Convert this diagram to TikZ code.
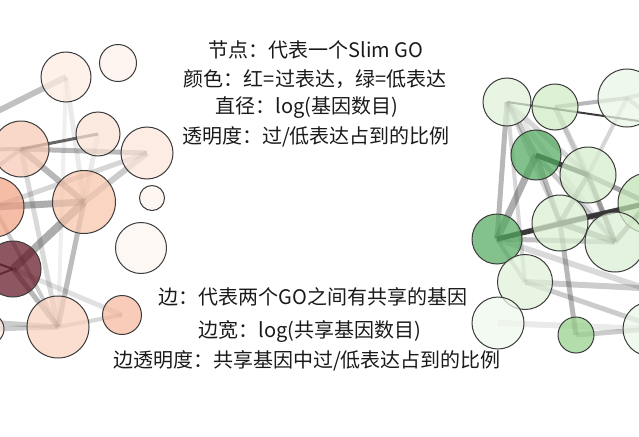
\documentclass[tikz,border=0pt]{standalone}
\usepackage{fontspec}
\setmainfont{Noto Sans CJK SC}
\usetikzlibrary{positioning}
\pgfdeclarelayer{bg}
\pgfsetlayers{bg,main}

% node colours, over-expressed (red) side
\definecolor{redA}{HTML}{FCEBE2}
\definecolor{redB}{HTML}{FDF1EA}
\definecolor{redC}{HTML}{F7C9B4}
\definecolor{redD}{HTML}{FBE1D4}
\definecolor{redE}{HTML}{FCE4D8}
\definecolor{redF}{HTML}{F1A284}
\definecolor{redG}{HTML}{F7C5AB}
\definecolor{redH}{HTML}{FDF2EC}
\definecolor{redI}{HTML}{FEF5F0}
\definecolor{redJ}{HTML}{631524}
\definecolor{redK}{HTML}{F9D1BD}
\definecolor{redL}{HTML}{F5B89D}
\definecolor{redM}{HTML}{FCE7DD}
% under-expressed (green) side
\definecolor{grnA}{HTML}{DEF1D7}
\definecolor{grnB}{HTML}{CEEBC3}
\definecolor{grnC}{HTML}{E9F5E4}
\definecolor{grnD}{HTML}{53A95F}
\definecolor{grnE}{HTML}{D6EDCD}
\definecolor{grnF}{HTML}{BFE3B3}
\definecolor{grnG}{HTML}{D8EED0}
\definecolor{grnH}{HTML}{55AA61}
\definecolor{grnI}{HTML}{DAEFD3}
\definecolor{grnJ}{HTML}{DFF1D8}
\definecolor{grnK}{HTML}{EFF8EB}
\definecolor{grnL}{HTML}{96D08A}
\definecolor{grnM}{HTML}{EAF6E6}
\definecolor{rim}{HTML}{3C3C3C}
\definecolor{link}{HTML}{333333}
\definecolor{ink}{HTML}{1A1A1A}

\begin{document}
\begin{tikzpicture}[
  x=1pt,y=-1pt,
  go_node/.style 2 args={circle,draw=rim,line width=1pt,inner sep=0pt,
    minimum size=#1pt,fill=#2,fill opacity=0.72},
  go_edge/.style 2 args={draw=link,line width=#1pt,draw opacity=#2},
  legend_text/.style={text=ink,font=\fontsize{20}{24}\selectfont,inner sep=0pt}
  ]
  \clip (0,0) rectangle (639,436);

  % red cluster
  \node[go_node={50}{redA}] (A) at (66,77) {};
  \node[go_node={37}{redB}] (B) at (118,63) {};
  \node[go_node={56}{redC}] (C) at (21,149) {};
  \node[go_node={44}{redD}] (D) at (98,134) {};
  \node[go_node={52}{redE}] (E) at (147,153) {};
  \node[go_node={60}{redF}] (F) at (-6,207) {};
  \node[go_node={63}{redG}] (G) at (84,202) {};
  \node[go_node={25}{redH}] (H) at (152,198) {};
  \node[go_node={51}{redI}] (I) at (141,248) {};
  \node[go_node={56}{redJ}] (J) at (13,269) {};
  \node[go_node={62}{redK}] (K) at (58,327) {};
  \node[go_node={39}{redL}] (L) at (122,315) {};
  \node[go_node={30}{redM}] (M) at (-11,329) {};
  \coordinate (offL1) at (-40,130);
  \coordinate (offL2) at (-40,150);
  \coordinate (offL3) at (-40,195);
  \coordinate (offL4) at (-40,250);
  \coordinate (offL5) at (-40,290);
  \coordinate (offL6) at (-40,320);

  % green cluster
  \node[go_node={48}{grnA}] (a) at (507,102) {};
  \node[go_node={46}{grnB}] (b) at (555,107) {};
  \node[go_node={58}{grnC}] (c) at (627,98) {};
  \node[go_node={50}{grnD}] (d) at (536,155) {};
  \node[go_node={56}{grnE}] (e) at (588,175) {};
  \node[go_node={60}{grnF}] (f) at (648,203) {};
  \node[go_node={56}{grnG}] (g) at (560,223) {};
  \node[go_node={50}{grnH}] (h) at (497,239) {};
  \node[go_node={60}{grnI}] (i) at (615,242) {};
  \node[go_node={55}{grnJ}] (j) at (525,282) {};
  \node[go_node={52}{grnK}] (k) at (498,323) {};
  \node[go_node={36}{grnL}] (l) at (576,335) {};
  \node[go_node={54}{grnM}] (m) at (650,329) {};
  \coordinate (offR1) at (680,127);
  \coordinate (offR2) at (680,85);
  \coordinate (offR3) at (680,140);
  \coordinate (offR4) at (680,300);
  \coordinate (offR5) at (680,290);
  \coordinate (offR6) at (680,335);

  \begin{pgfonlayer}{bg}
    \foreach \s/\t/\w/\o in {A/offL1/6/0.3, A/G/5/0.1, A/K/4/0.08, C/D/3/0.75,
        C/E/5/0.35, C/G/6/0.35, C/offL2/4/0.35, C/offL3/4/0.25, F/G/7/0.4,
        F/E/5/0.2, G/E/6/0.25, G/J/8/0.4, G/K/5/0.25, J/K/5/0.35, J/L/5/0.15,
        J/offL4/2/0.85, J/offL5/2/0.8, K/L/4/0.2, K/M/5/0.25, K/F/4/0.25,
        K/offL6/5/0.25, K/D/5/0.1, K/C/5/0.18}
      \draw[go_edge={\w}{\o}] (\s.center) -- (\t.center);
    \foreach \s/\t/\w/\o in {a/offR1/2/0.95, b/c/4/0.35, c/offR2/4/0.25, c/offR3/4/0.25,
        a/h/5/0.35, a/d/5/0.25, a/e/5/0.2, a/g/4/0.2, a/i/5/0.12, a/j/4/0.2,
        d/e/5/0.95, d/h/7/0.4, d/g/5/0.35, d/i/5/0.25, b/e/5/0.2, b/i/5/0.12,
        h/f/5/0.95, h/g/5/0.45, h/i/5/0.3, h/j/4/0.25, h/offR4/6/0.18,
        e/g/5/0.35, e/i/5/0.45, e/f/5/0.45, g/i/6/0.45, g/l/5/0.35, g/f/5/0.65,
        j/offR5/6/0.25, j/offR6/5/0.25, k/m/6/0.1, l/m/5/0.25, i/f/5/0.45, e/c/4/0.2}
      \draw[go_edge={\w}{\o}] (\s.center) -- (\t.center);
  \end{pgfonlayer}

  % legend
  \node[legend_text] (node_def)   at (316,50)  {节点：代表一个Slim GO};
  \node[legend_text] (node_color) at (315,79)  {颜色：红=过表达，绿=低表达};
  \node[legend_text] (node_size)  at (307,108) {直径：log(基因数目)};
  \node[legend_text] (node_alpha) at (316,137) {透明度：过/低表达占到的比例};
  \node[legend_text] (edge_def)   at (313,297) {边：代表两个GO之间有共享的基因};
  \node[legend_text] (edge_width) at (310,331) {边宽：log(共享基因数目)};
  \node[legend_text] (edge_alpha) at (307,361) {边透明度：共享基因中过/低表达占到的比例};
\end{tikzpicture}
\end{document}
